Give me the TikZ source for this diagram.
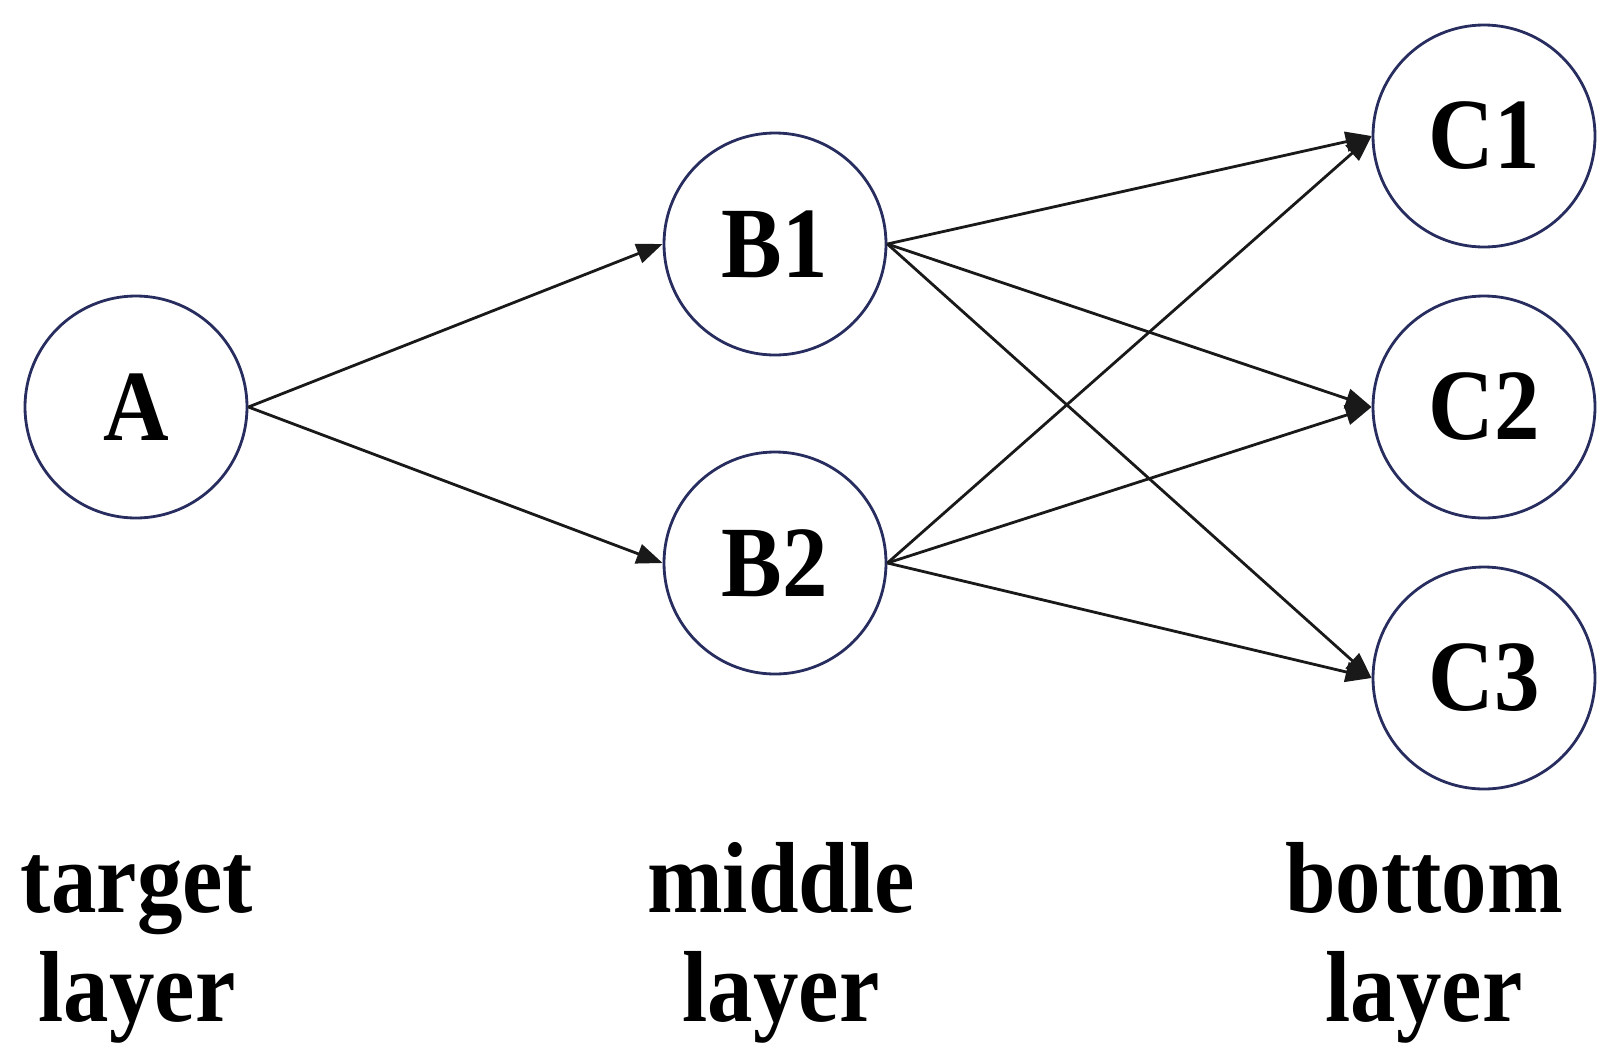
\documentclass[tikz,border=0pt]{standalone}
\usepackage{fontspec}
\setmainfont{Liberation Serif}[FakeStretch=0.9]
\usetikzlibrary{arrows.meta}
\definecolor{ringc}{RGB}{40,45,95}
\definecolor{edgec}{RGB}{25,25,25}
\begin{document}
\begin{tikzpicture}[x=1pt,y=-1pt,
  unit/.style={circle,draw=ringc,line width=2.8pt,minimum size=222pt,inner sep=0pt,
    font=\fontsize{101}{109}\selectfont\bfseries},
  link/.style={draw=edgec,line width=2.8pt,-{Triangle[length=26pt,width=20pt]}},
  lbl/.style={align=center,inner sep=0pt,font=\fontsize{101}{109}\selectfont\bfseries}]
\useasboundingbox (0,0) rectangle (1617,1061);
\node[unit] (A)  at (136,407) {A};
\node[unit] (B1) at (775,244) {B1};
\node[unit] (B2) at (775,563) {B2};
\node[unit] (C1) at (1484,136) {C1};
\node[unit] (C2) at (1484,407) {C2};
\node[unit] (C3) at (1484,678) {C3};
\draw[link] (A.east) -- (B1.west);
\draw[link] (A.east) -- (B2.west);
\draw[link] (B1.east) -- (C1.west);
\draw[link] (B1.east) -- (C2.west);
\draw[link] (B1.east) -- (C3.west);
\draw[link] (B2.east) -- (C1.west);
\draw[link] (B2.east) -- (C2.west);
\draw[link] (B2.east) -- (C3.west);
\node[lbl,anchor=base] (tl) at (137,1021) {target\\layer};
\node[lbl,anchor=base] (ml) at (781,1021) {middle\\layer};
\node[lbl,anchor=base] (bl) at (1424,1021) {bottom\\layer};
\end{tikzpicture}
\end{document}
